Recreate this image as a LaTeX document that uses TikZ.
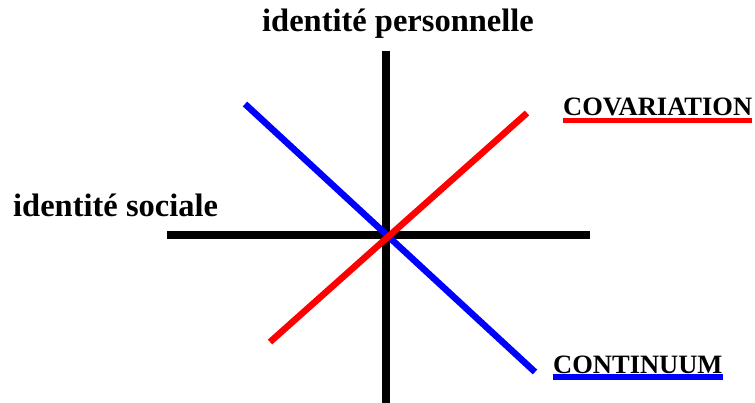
\documentclass[tikz,border=0pt]{standalone}
\usepackage{fontspec}
\setmainfont{Liberation Serif}
\usetikzlibrary{positioning}
\definecolor{covred}{RGB}{255,0,0}
\definecolor{contblue}{RGB}{0,0,255}
\tikzset{
  axisline/.style={line width=8pt,black},
  diagline/.style={line width=6.5pt},
  axislabel/.style={font=\bfseries\fontsize{32.5}{36}\selectfont,inner sep=0pt},
  keylabel/.style={font=\bfseries\fontsize{26.5}{30}\selectfont,inner sep=0pt,anchor=base west},
}
\begin{document}
\begin{tikzpicture}[x=1pt,y=-1pt]
  \useasboundingbox (0,0) rectangle (755,403);
  % axes
  \coordinate (top) at (386,51);
  \coordinate (bottom) at (386,403);
  \coordinate (left) at (167,235);
  \coordinate (right) at (590,235);
  \draw[axisline] (top) -- (bottom);
  \draw[axisline] (left) -- (right);
  % diagonals
  \coordinate (contA) at (245,104);
  \coordinate (contB) at (535,372);
  \coordinate (covA) at (270,342);
  \coordinate (covB) at (527,113);
  \draw[diagline,contblue] (contA) -- (contB);
  \draw[diagline,covred] (covA) -- (covB);
  % labels
  \node[axislabel,anchor=base] (perso) at (398,32) {identité personnelle};
  \node[axislabel,anchor=base west] (social) at (13,217) {identité sociale};
  \node[keylabel] (covar) at (563,116) {COVARIATION};
  \node[keylabel] (contin) at (553,373) {CONTINUUM};
  \draw[covred,line width=5pt] ([yshift=-4.5pt]covar.base west) -- ([yshift=-4.5pt]covar.base east);
  \draw[contblue,line width=6pt] ([yshift=-4pt]contin.base west) -- ([yshift=-4pt]contin.base east);
\end{tikzpicture}
\end{document}
